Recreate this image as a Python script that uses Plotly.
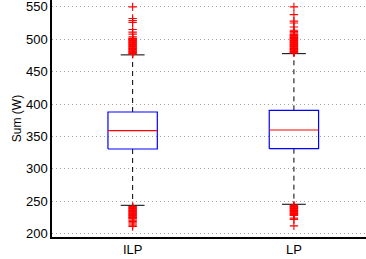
import plotly.graph_objects as go

categories = ["ILP", "LP"]
positions = [1, 2]
q1 = [330.7, 331.2]
median = [359.0, 360.0]
q3 = [387.8, 390.4]
lower_whisker = [243.8, 245.4]
upper_whisker = [475.9, 477.8]

ilp_high = [477, 478, 479, 480, 481, 482, 483, 484, 485, 486, 487, 488, 489, 490,
            491, 492, 493, 494, 495, 496, 497, 498, 499, 500, 501, 502, 504, 508,
            511, 515, 526, 529, 532, 550]
ilp_low = [242, 241, 240, 239, 238, 237, 236, 235, 234, 233, 232, 231, 230, 229,
           228, 227, 226, 225, 224, 223, 221, 219, 217, 215, 213, 211]
lp_high = [479, 480, 481, 482, 483, 484, 485, 486, 487, 488, 489, 490, 491, 492,
           493, 494, 495, 496, 497, 498, 499, 500, 501, 502, 503, 504, 505, 506,
           507, 508, 510, 512, 514, 519, 525, 528, 538, 550]
lp_low = [244, 243, 242, 241, 240, 239, 238, 237, 236, 235, 234, 233, 232, 231,
          230, 229, 228, 224, 222, 212]
outliers = [ilp_high + ilp_low, lp_high + lp_low]

y_ticks = [200, 250, 300, 350, 400, 450, 500, 550]

box_hw = 0.153
cap_hw = 0.074

fig = go.Figure()
for i, p in enumerate(positions):
    # whiskers
    for a, b in [(q3[i], upper_whisker[i]), (q1[i], lower_whisker[i])]:
        fig.add_trace(go.Scatter(x=[p, p], y=[a, b], mode="lines",
                                 line=dict(color="black", width=1, dash="5px,4px"),
                                 hoverinfo="skip", showlegend=False))
    # caps
    for v in [upper_whisker[i], lower_whisker[i]]:
        fig.add_trace(go.Scatter(x=[p - cap_hw, p + cap_hw], y=[v, v], mode="lines",
                                 line=dict(color="black", width=1),
                                 hoverinfo="skip", showlegend=False))
    # box
    fig.add_trace(go.Scatter(x=[p - box_hw, p + box_hw, p + box_hw, p - box_hw, p - box_hw],
                             y=[q1[i], q1[i], q3[i], q3[i], q1[i]], mode="lines",
                             line=dict(color="#0000ff", width=1.2),
                             hoverinfo="skip", showlegend=False))
    # median
    fig.add_trace(go.Scatter(x=[p - box_hw, p + box_hw], y=[median[i], median[i]], mode="lines",
                             line=dict(color="#ff0000", width=1.2),
                             hoverinfo="skip", showlegend=False))
    # outliers
    fig.add_trace(go.Scatter(x=[p] * len(outliers[i]), y=outliers[i], mode="markers",
                             marker=dict(symbol="cross-thin", size=6,
                                         line=dict(color="#ff0000", width=1.1)),
                             hoverinfo="skip", showlegend=False))

fig.update_layout(
    width=366, height=259,
    margin=dict(l=52, r=0, t=0, b=22, autoexpand=False),
    paper_bgcolor="white", plot_bgcolor="white",
    font=dict(family="Liberation Sans, Arial, sans-serif", size=13, color="black"),
    xaxis=dict(range=[0.5, 2.447], tickvals=positions, ticktext=categories,
               showgrid=False, zeroline=False, showline=True, linecolor="black",
               linewidth=1.5, ticks="", tickfont=dict(size=13), ticklabeloverflow="allow"),
    yaxis=dict(range=[194.9, 560.6], tickvals=y_ticks,
               showgrid=True, gridcolor="#a0a0a0", griddash="1px,3px", gridwidth=1,
               zeroline=False, showline=True, linecolor="black", linewidth=1.5,
               ticks="", tickfont=dict(size=13), ticklabeloverflow="allow",
               title=dict(text="Sum (W)", font=dict(size=12), standoff=2)),
)

fig.write_html("out.html", config={"displayModeBar": False},
               post_script="document.body.style.margin='0';")
